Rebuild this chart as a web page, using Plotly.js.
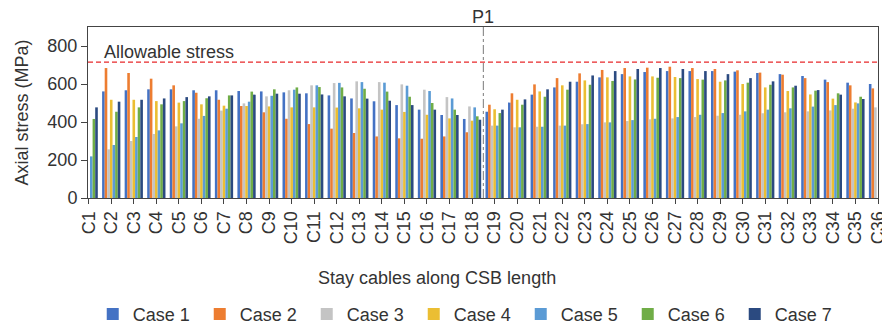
<!DOCTYPE html>
<html>
<head>
<meta charset="utf-8">
<script src="https://cdn.plot.ly/plotly-3.0.1.min.js"></script>
<style>
  html, body { margin: 0; padding: 0; background: #fff; }
  #chart { width: 882px; height: 327px; }
</style>
</head>
<body>
<div id="chart"></div>
<script>
// Stay cable labels C1 ... C36
const cables = ["C1","C2","C3","C4","C5","C6","C7","C8","C9","C10","C11","C12",
  "C13","C14","C15","C16","C17","C18","C19","C20","C21","C22","C23","C24",
  "C25","C26","C27","C28","C29","C30","C31","C32","C33","C34","C35","C36"];

// Axial stress (MPa) per cable for each load case
const case1 = [null,561,567,572,572,567,567,563,561,556,551,540,524,509,489,465,437,416,
  454,502,544,582,612,635,652,663,668,668,668,665,658,652,642,623,607,600];
const case2 = [null,684,658,628,593,554,517,484,451,417,389,365,342,324,314,312,324,346,
  491,551,598,631,656,674,684,686,691,684,679,672,660,649,631,610,593,577];
const case3 = [null,256,300,337,377,417,460,498,535,567,593,605,614,610,598,570,531,482,
  381,372,375,381,388,398,405,414,419,426,433,438,446,451,456,461,470,477];
const case4 = [null,517,517,510,502,493,486,484,482,477,477,476,472,465,453,438,419,407,
  467,517,561,593,619,635,640,640,637,626,612,600,582,563,545,523,503,null];
const case5 = [219,279,321,356,393,432,470,507,538,570,593,606,610,607,591,563,524,477,
  381,372,375,381,389,398,410,417,426,438,447,456,465,472,481,489,498,null];
const case6 = [416,454,477,493,510,525,540,560,572,582,584,582,575,560,533,500,465,430,
  447,491,533,570,596,616,624,633,631,623,619,607,596,582,565,551,533,null];
const case7 = [477,507,517,524,531,535,540,544,549,549,545,535,523,512,489,465,437,412,
  465,519,572,612,645,668,679,684,679,668,652,631,614,591,568,544,521,null];

const caseNames = ["Case 1","Case 2","Case 3","Case 4","Case 5","Case 6","Case 7"];
const caseValues = [case1, case2, case3, case4, case5, case6, case7];
const caseColors = ["#4472C4","#ED7D31","#C4C4C4","#EBBE33","#5B9BD5","#70AD47","#2B4A80"];

const allowableStress = 715;     // MPa
const pylonPosition = 17.5;      // between C18 and C19

const font = "Liberation Sans, Arial, Helvetica, sans-serif";
const textColor = "#333333";

const traces = caseNames.map((name, i) => ({
  type: "bar",
  name: name,
  x: cables,
  y: caseValues[i],
  marker: { color: caseColors[i], line: { width: 0 } },
  hoverinfo: "x+y+name"
}));

const layout = {
  width: 882,
  height: 327,
  margin: { l: 88, r: 4, t: 27, b: 129, autoexpand: false },
  paper_bgcolor: "#ffffff",
  plot_bgcolor: "#ffffff",
  font: { family: font, size: 18, color: textColor },
  barmode: "group",
  bargap: 0.19,
  bargroupgap: 0,
  showlegend: true,
  legend: {
    orientation: "h",
    x: 0.006, xanchor: "left",
    y: -0.68, yanchor: "middle",
    entrywidth: 62, entrywidthmode: "pixels",
    font: { family: font, size: 18, color: textColor },
    bgcolor: "rgba(0,0,0,0)"
  },
  xaxis: {
    type: "category",
    range: [-0.03, 35],
    tickangle: -90,
    ticks: "outside",
    ticklen: 5,
    tickcolor: "#444",
    showline: true,
    linecolor: "#444",
    linewidth: 1,
    mirror: true,
    showgrid: false,
    zeroline: false,
    automargin: false,
    tickfont: { family: font, size: 18, color: textColor }
  },
  yaxis: {
    range: [0, 900],
    tickvals: [0, 200, 400, 600, 800],
    ticks: "outside",
    ticklen: 6,
    tickcolor: "#444",
    showline: true,
    linecolor: "#444",
    linewidth: 1,
    mirror: true,
    showgrid: false,
    zeroline: false,
    automargin: false,
    tickfont: { family: font, size: 18, color: textColor },
    title: { text: "Axial stress (MPa)", font: { family: font, size: 18, color: textColor }, standoff: 14 }
  },
  shapes: [
    {
      type: "line", xref: "paper", yref: "y",
      x0: 0, x1: 1, y0: allowableStress, y1: allowableStress,
      line: { color: "#E8282B", width: 1.3, dash: "5px,3px" }
    },
    {
      type: "line", xref: "x", yref: "paper",
      x0: pylonPosition, x1: pylonPosition, y0: 0, y1: 1,
      line: { color: "#7a7a7a", width: 1, dash: "dashdot" }
    }
  ],
  annotations: [
    {
      text: "Allowable stress", xref: "paper", yref: "y",
      x: 0.018, y: allowableStress, xanchor: "left", yanchor: "bottom",
      yshift: -2,
      showarrow: false, font: { family: font, size: 18, color: textColor }
    },
    {
      text: "P1", xref: "x", yref: "paper",
      x: pylonPosition, y: 1.06, xanchor: "center", yanchor: "middle",
      showarrow: false, font: { family: font, size: 18, color: textColor }
    },
    {
      text: "Stay cables along CSB length", xref: "paper", yref: "paper",
      x: 0.442, y: -0.47, xanchor: "center", yanchor: "middle",
      showarrow: false, font: { family: font, size: 18, color: textColor }
    }
  ]
};

Plotly.newPlot("chart", traces, layout, { displayModeBar: false, staticPlot: true });
</script>
</body>
</html>
